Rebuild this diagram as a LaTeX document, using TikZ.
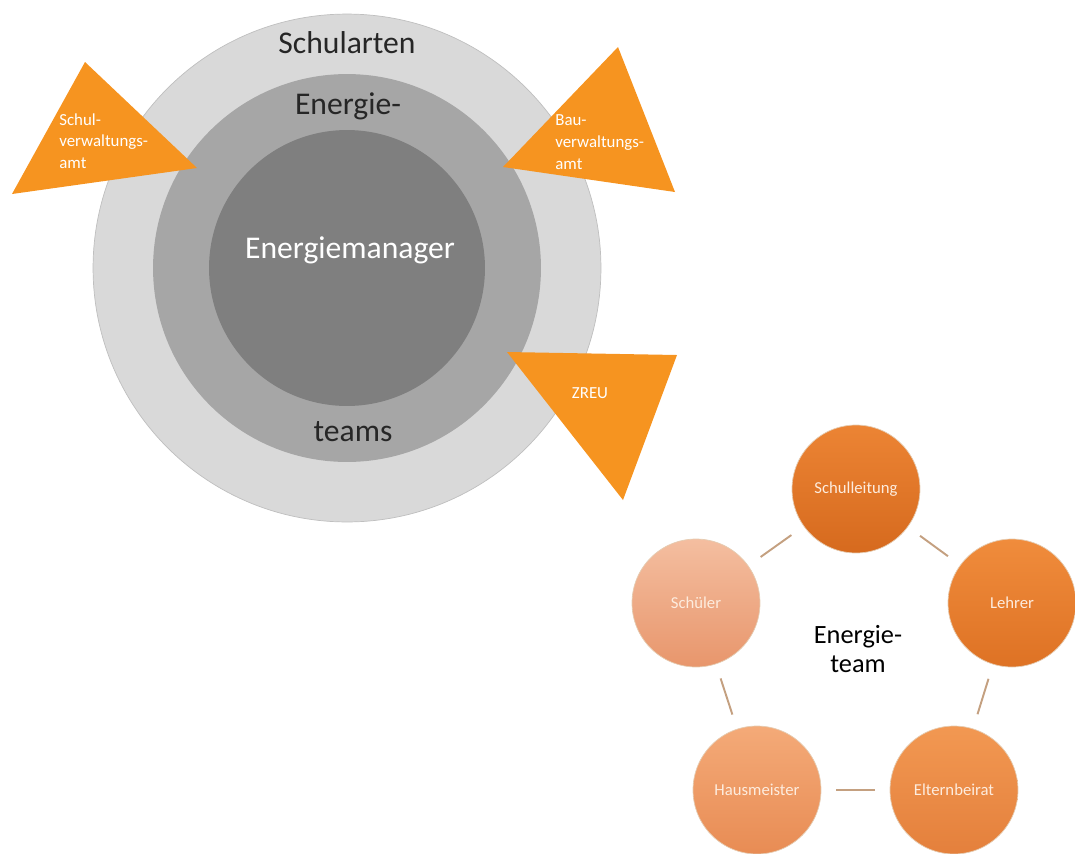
\documentclass[tikz,border=0pt]{standalone}
\usepackage{fontspec}
\setmainfont{Carlito}
\definecolor{ringlight}{RGB}{217,217,217}
\definecolor{ringmid}{RGB}{166,166,166}
\definecolor{ringdark}{RGB}{127,127,127}
\definecolor{amtorange}{RGB}{246,148,32}
\definecolor{linktan}{RGB}{196,160,128}
\definecolor{membertext}{RGB}{253,236,222}

\tikzset{
  ring/.style={circle, inner sep=0pt},
  ringlabel/.style={font=\fontsize{18}{22}\selectfont, text=black!85},
  amtlabel/.style={font=\fontsize{9.6}{12.4}\selectfont, text=white, align=left, inner sep=0pt},
  member/.style={circle, minimum size=2.56cm, inner sep=0pt, draw=white!60!brown, line width=0.4pt,
    font=\fontsize{9.5}{11}\selectfont, text=membertext},
  link/.style={draw=linktan, line width=1.1pt, shorten >=0.3cm, shorten <=0.3cm}
}

\begin{document}
\begin{tikzpicture}[x=0.02cm, y=-0.02cm]
  \useasboundingbox (0,0) rectangle (1075,853);

  % Rings
  \node[ring, fill=ringlight, draw=black!25, minimum size=10.16cm] (schularten) at (347,268) {};
  \node[ring, fill=ringmid, minimum size=7.76cm] (teams) at (347,268) {};
  \node[ring, fill=ringdark, minimum size=5.52cm] (manager) at (347,268) {};

  \node[ringlabel] (lblschule) at (347,43) {Schularten};
  \node[ringlabel] (lblenergie) at (348,106) {Energie-};
  \node[ringlabel] (lblteams) at (353,432) {teams};
  \node[ringlabel, text=white] (lblmanager) at (350,250) {Energiemanager};

  % Triangles
  \fill[amtorange] (85,62) -- (197,168) -- (12,194) -- cycle;
  \node[amtlabel, anchor=west] (schulamt) at (59,141) {Schul-\\verwaltungs-\\amt};

  \fill[amtorange] (618,47) -- (675,192) -- (503,167) -- cycle;
  \node[amtlabel, anchor=west] (bauamt) at (555,142) {Bau-\\verwaltungs-\\amt};

  \fill[amtorange] (507,352) -- (677,355) -- (623,500) -- cycle;
  \node[amtlabel] (zreu) at (590,393) {ZREU};

  % Energieteam
  \node[member, top color={rgb,255:red,236;green,132;blue,52}, bottom color={rgb,255:red,214;green,106;blue,30}] (schulleitung) at (856,489) {Schulleitung};
  \node[member, top color={rgb,255:red,240;green,140;blue,60}, bottom color={rgb,255:red,222;green,114;blue,36}] (lehrer) at (1012,603) {Lehrer};
  \node[member, top color={rgb,255:red,242;green,152;blue,82}, bottom color={rgb,255:red,228;green,128;blue,60}] (eltern) at (954,790) {Elternbeirat};
  \node[member, top color={rgb,255:red,244;green,170;blue,120}, bottom color={rgb,255:red,232;green,140;blue,84}] (hausmeister) at (757,790) {Hausmeister};
  \node[member, top color={rgb,255:red,244;green,190;blue,160}, bottom color={rgb,255:red,232;green,150;blue,108}] (schueler) at (696,603) {Schüler};

  \node[font=\fontsize{15}{16.5}\selectfont, align=center] (team) at (858,649) {Energie-\\team};

  \draw[link] (schueler) -- (schulleitung);
  \draw[link] (schulleitung) -- (lehrer);
  \draw[link] (lehrer) -- (eltern);
  \draw[link] (eltern) -- (hausmeister);
  \draw[link] (hausmeister) -- (schueler);
\end{tikzpicture}
\end{document}
